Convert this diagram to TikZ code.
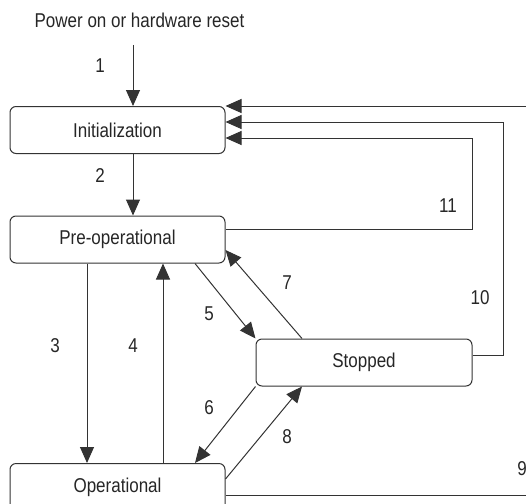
\documentclass[tikz,border=0pt]{standalone}
\usepackage{fontspec}
\setmainfont[FakeStretch=0.85]{Liberation Sans}
\usetikzlibrary{arrows.meta,calc}
\begin{document}
\begin{tikzpicture}[x=1pt,y=1pt,
  state/.style={draw=black!80, line width=1pt, rounded corners=6pt, minimum width=215pt, minimum height=47pt, inner sep=0pt, font=\fontsize{20}{24}\selectfont, text=black!85},
  conn/.style={draw=black!80, line width=1pt, -{Triangle[length=16pt,width=14pt]}},
  plain/.style={draw=black!80, line width=1pt},
  lbl/.style={font=\fontsize{20}{24}\selectfont, text=black!85, inner sep=0pt}]
\useasboundingbox (0,0) rectangle (526,-503);
\clip (0,0) rectangle (526,-503);
\node[state] (init) at (117.5,-130) {Initialization};
\node[state] (preop) at (117.5,-239.5) {Pre-operational};
\node[state, minimum width=216pt] (stopped) at (364,-362.5) {Stopped};
\node[state] (oper) at (117.5,-487) {Operational};
\node[lbl] (power) at (139.5,-20) {Power on or hardware reset};
\coordinate (start) at (133,-45);
\coordinate (r0) at (526,-106);
\coordinate (r9) at (526,-495);
% arrows
\draw[conn] (start) -- ([xshift=15.5pt]init.north);
\draw[conn] ([xshift=15.5pt]init.south) -- ([xshift=15.5pt]preop.north);
\draw[conn] ([xshift=-30.5pt]preop.south) -- ([xshift=-30.5pt]oper.north);
\draw[conn] ([xshift=45.5pt]oper.north) -- ([xshift=45.5pt]preop.south);
\draw[conn] ([xshift=77.5pt]preop.south) -- (stopped.north west);
\draw[conn] ([xshift=-62pt]stopped.north) -- ([yshift=-10.5pt]preop.east);
\draw[conn] (stopped.south west) -- ([xshift=77.5pt]oper.north);
\draw[conn] ([yshift=8pt]oper.east) -- ([xshift=-62pt]stopped.south);
\draw[conn] (r0) -- ([yshift=24pt]init.east);
\draw[conn] ([yshift=7pt]stopped.east) -| (503,-122) -- ([yshift=8pt]init.east);
\draw[conn] ([yshift=10.5pt]preop.east) -| (472,-138) -- ([yshift=-8pt]init.east);
\draw[plain] ([yshift=-8pt]oper.east) -- (r9);
% labels
\node[lbl] (l1) at (100,-66) {1};
\node[lbl] (l2) at (100,-176) {2};
\node[lbl] (l3) at (55,-346) {3};
\node[lbl] (l4) at (133,-346) {4};
\node[lbl] (l5) at (209,-314) {5};
\node[lbl] (l6) at (209,-408) {6};
\node[lbl] (l7) at (287,-283) {7};
\node[lbl] (l8) at (287,-437) {8};
\node[lbl] (l9) at (522,-469) {9};
\node[lbl] (l10) at (480,-298) {10};
\node[lbl] (l11) at (448,-206) {11};
\end{tikzpicture}
\end{document}
